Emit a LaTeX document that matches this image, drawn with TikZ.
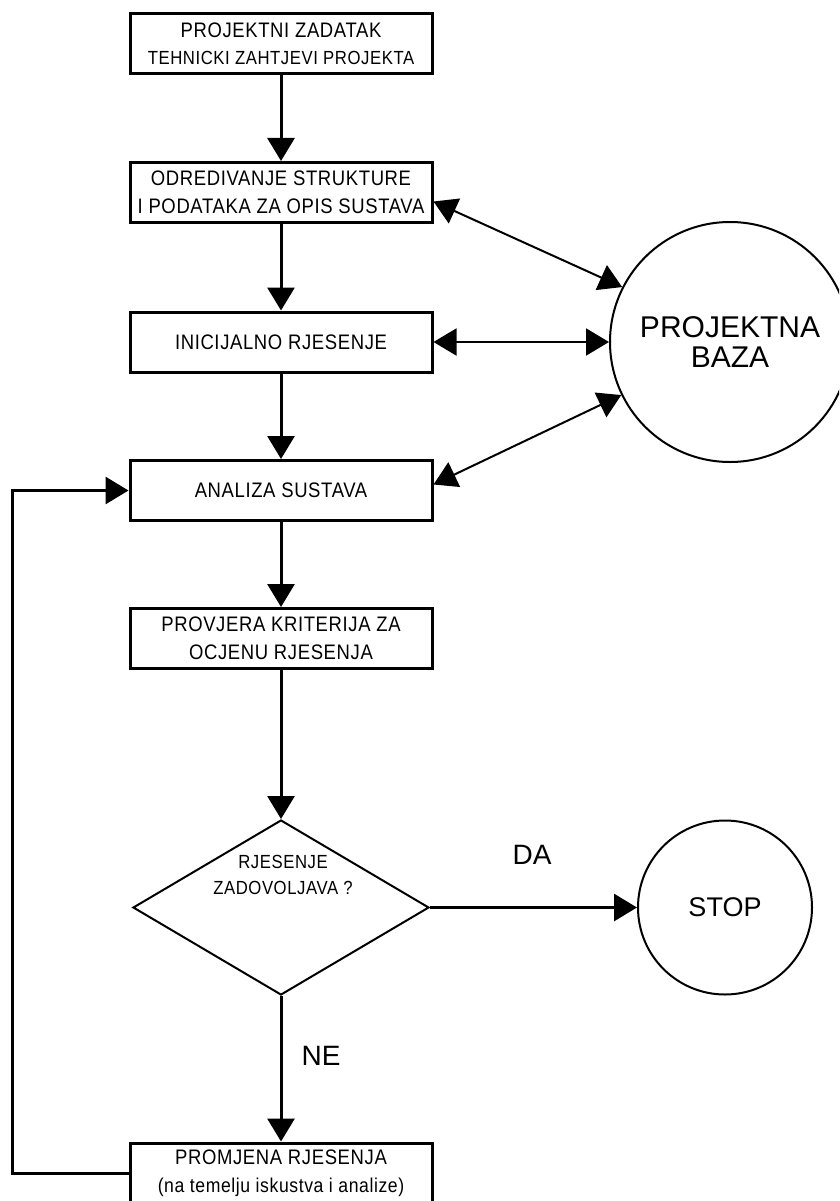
\documentclass[tikz,border=0pt]{standalone}
\usepackage{fontspec}
\setmainfont{Liberation Sans}
\newfontfamily\cadfont[FakeStretch=0.88,LetterSpace=3]{Liberation Sans}
\usetikzlibrary{arrows.meta,shapes.geometric}
\begin{document}
\begin{tikzpicture}[x=1pt,y=-1pt,
  box/.style={draw,line width=3pt,minimum width=302pt,minimum height=60pt,inner sep=0pt,align=center,font=\cadfont\fontsize{21}{27.5}\selectfont},
  flow/.style={line width=3pt,-{Triangle[length=23pt,width=27pt]}},
  link/.style={line width=2pt,{Triangle[length=23pt,width=27pt]}-{Triangle[length=23pt,width=27pt]}},
  circ/.style={draw,circle,line width=2pt,inner sep=0pt,align=center},
  lab/.style={font=\fontsize{28}{30}\selectfont}]
\clip (0,0) rectangle (839,1201);
\node[box] (b1) at (281,44) {PROJEKTNI ZADATAK\\{\fontsize{19}{27.5}\selectfont TEHNICKI ZAHTJEVI PROJEKTA}};
\node[box] (b2) at (281,192.5) {ODREDIVANJE STRUKTURE\\I PODATAKA ZA OPIS SUSTAVA};
\node[box] (b3) at (281,342) {INICIJALNO RJESENJE};
\node[box] (b4) at (281,490.5) {ANALIZA SUSTAVA};
\node[box] (b5) at (281,638.5) {PROVJERA KRITERIJA ZA\\OCJENU RJESENJA};
\node[draw,diamond,line width=2pt,minimum width=296pt,minimum height=175pt,inner sep=0pt] (d) at (281,907.5) {};
\node[align=center,font=\cadfont\fontsize{19}{26}\selectfont] (dt) at (283,875) {RJESENJE\\ZADOVOLJAVA ?};
\node[box] (b6) at (281,1173) {PROMJENA RJESENJA\\{\fontsize{20}{27.5}\selectfont (na temelju iskustva i analize)}};
\node[circ,minimum size=174pt,font=\fontsize{27}{30}\selectfont] (stop) at (725,907.5) {STOP};
\node[circ,minimum size=240pt,font=\fontsize{30}{30}\selectfont] (pb) at (730,342) {PROJEKTNA\\BAZA};
\coordinate (lp) at (12,0);
\draw[flow] (b1) -- (b2);
\draw[flow] (b2) -- (b3);
\draw[flow] (b3) -- (b4);
\draw[flow] (b4) -- (b5);
\draw[flow] (b5) -- (d);
\draw[flow] (d) -- (b6);
\draw[flow] (d) -- (stop);
\draw[flow] (b6.west) -- (b6.west -| lp) -- (b4.west -| lp) -- (b4.west);
\draw[link] ([yshift=-9pt]b2.east) -- (pb.153);
\draw[link] (b3.east) -- (pb.west);
\draw[link] ([yshift=6pt]b4.east) -- (pb.206);
\node[lab] (da) at (532,855) {DA};
\node[lab] (ne) at (321,1056) {NE};
\end{tikzpicture}
\end{document}
